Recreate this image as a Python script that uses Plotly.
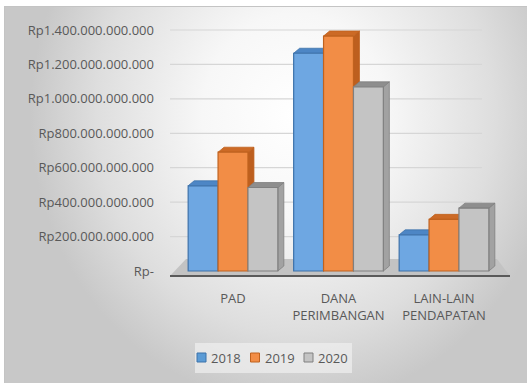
import urllib.parse
import plotly.graph_objects as go

# Revenue components (Rupiah) per fiscal year
categories = ["PAD", "DANA<br>PERIMBANGAN", "LAIN-LAIN<br>PENDAPATAN"]
years = ["2018", "2019", "2020"]
values_2018 = [495_000_000_000, 1_265_000_000_000, 210_000_000_000]
values_2019 = [690_000_000_000, 1_365_000_000_000, 300_000_000_000]
values_2020 = [485_000_000_000, 1_070_000_000_000, 365_000_000_000]

tick_values = [0, 200e9, 400e9, 600e9, 800e9, 1000e9, 1200e9, 1400e9]
tick_labels = ["Rp-", "Rp200.000.000.000", "Rp400.000.000.000", "Rp600.000.000.000",
               "Rp800.000.000.000", "Rp1.000.000.000.000", "Rp1.200.000.000.000",
               "Rp1.400.000.000.000"]

series = [values_2018, values_2019, values_2020]
front_colors = ["#6ea7e2", "#f28d46", "#c4c4c4"]
edge_colors = ["#3d72aa", "#c0621e", "#808080"]
top_colors = ["#4d86c5", "#cc6a26", "#8e8e8e"]
side_colors = ["#4479b3", "#bd5f1f", "#a2a2a2"]

# ---- geometry of the figure ----
W, H = 527, 383
ML, MR, MT, MB = 170, 17, 21, 105
PW, PH = W - ML - MR, H - MT - MB
px_per_x = 105.5
x0 = -(233 - ML) / px_per_x
x1 = x0 + PW / px_per_x
px_per_y = 241 / 1400e9
y1 = (271 - MT) / px_per_y
y0 = y1 - PH / px_per_y

BARGAP = 0.15
bw = (1 - BARGAP) / len(years)


def to_data(px, py):
    return x0 + (px - ML) / px_per_x, y1 - (py - MT) / px_per_y


def to_paper(px, py):
    return (px - ML) / PW, (MT + PH - py) / PH


fig = go.Figure()
xs = list(range(len(categories)))
for yr, vals, fc, ec in zip(years, series, front_colors, edge_colors):
    fig.add_trace(go.Bar(
        x=xs, y=vals, name=yr,
        marker=dict(color=fc, line=dict(color=ec, width=1.2)),
        hoverinfo="skip", showlegend=False,
    ))

shapes = []
annotations = []

# floor of the chart
fl = [to_data(170, 276), to_data(510, 276), to_data(497, 259), to_data(186, 259)]
shapes.append(dict(
    type="path", xref="x", yref="y", layer="below",
    path="M{},{} L{},{} L{},{} L{},{} Z".format(*[c for p in fl for c in p]),
    fillcolor="#c3c3c3", line=dict(width=0),
))
a, b = to_data(170, 276), to_data(510, 276)
shapes.append(dict(type="line", xref="x", yref="y", layer="below",
                   x0=a[0], y0=a[1], x1=b[0], y1=b[1],
                   line=dict(color="#5a5a5a", width=2)))

# horizontal gridlines
for tv in tick_values[1:]:
    shapes.append(dict(type="line", xref="paper", yref="y", layer="below",
                       x0=0, x1=(482 - ML) / PW, y0=tv, y1=tv,
                       line=dict(color="#d6d6d6", width=1.2)))

# depth faces (top and right side) of each column
dx = 6 / px_per_x
dy = 5 / px_per_y
for s, vals in enumerate(series):
    for c, v in enumerate(vals):
        xl = c + (s - 1) * bw - bw / 2
        xr = xl + bw
        top = f"M{xl},{v} L{xr},{v} L{xr+dx},{v+dy} L{xl+dx},{v+dy} Z"
        side = f"M{xr},0 L{xr+dx},{dy} L{xr+dx},{v+dy} L{xr},{v} Z"
        shapes.append(dict(type="path", xref="x", yref="y", layer="between",
                           path=side, fillcolor=side_colors[s],
                           line=dict(color=edge_colors[s], width=0.8)))
        shapes.append(dict(type="path", xref="x", yref="y", layer="between",
                           path=top, fillcolor=top_colors[s],
                           line=dict(color=edge_colors[s], width=0.8)))

# compact legend box below the plot
lx0, ly0 = to_paper(195, 373)
lx1, ly1 = to_paper(352, 343)
shapes.append(dict(type="rect", xref="paper", yref="paper", layer="below",
                   x0=lx0, y0=ly0, x1=lx1, y1=ly1,
                   fillcolor="rgba(240,240,240,0.7)", line=dict(width=0)))
for i, yr in enumerate(years):
    left = 197 + i * 53.5
    sx0, sy0 = to_paper(left, 362)
    sx1, sy1 = to_paper(left + 9, 353)
    shapes.append(dict(type="rect", xref="paper", yref="paper", layer="above",
                       x0=sx0, y0=sy0, x1=sx1, y1=sy1,
                       fillcolor=front_colors[i] if i else "#5b9bd5",
                       line=dict(color=edge_colors[i], width=1)))
    tx, ty = to_paper(left + 12, 357.5)
    annotations.append(dict(xref="paper", yref="paper", x=tx, y=ty, text=yr,
                            showarrow=False, xanchor="left", yanchor="middle",
                            font=dict(size=13, color="#595959")))

# soft radial backdrop with a thin frame
svg = (
    "<svg xmlns='http://www.w3.org/2000/svg' width='527' height='383' "
    "viewBox='0 0 527 383' preserveAspectRatio='none'>"
    "<defs><radialGradient id='g' gradientUnits='userSpaceOnUse' cx='0' cy='0' r='1' "
    "gradientTransform='translate(295 115) scale(265 290)'>"
    "<stop offset='0' stop-color='#ffffff'/>"
    "<stop offset='0.35' stop-color='#f7f7f7'/>"
    "<stop offset='0.75' stop-color='#dedede'/>"
    "<stop offset='1' stop-color='#c8c8c8'/>"
    "</radialGradient></defs>"
    "<rect width='527' height='383' fill='#ffffff'/>"
    "<rect x='4.5' y='6.5' width='540' height='400' fill='url(#g)' stroke='#c4c4c4'/>"
    "</svg>"
)
bg_uri = "data:image/svg+xml;charset=utf-8," + urllib.parse.quote(svg)

fig.update_layout(
    width=W, height=H,
    margin=dict(l=ML, r=MR, t=MT, b=MB, pad=0),
    paper_bgcolor="rgba(0,0,0,0)",
    plot_bgcolor="rgba(0,0,0,0)",
    barmode="group", bargap=BARGAP, bargroupgap=0,
    font=dict(family="Open Sans", size=13, color="#595959"),
    shapes=shapes,
    annotations=annotations,
    images=[dict(source=bg_uri, xref="paper", yref="paper",
                 x=-ML / PW, y=1 + MT / PH, sizex=W / PW, sizey=H / PH,
                 xanchor="left", yanchor="top", sizing="stretch", layer="below")],
    xaxis=dict(range=[x0, x1], tickvals=xs, ticktext=categories,
               showgrid=False, zeroline=False, showline=False, ticks="",
               ticklabelstandoff=11, fixedrange=True),
    yaxis=dict(range=[y0, y1], tickvals=tick_values, ticktext=tick_labels,
               showgrid=False, zeroline=False, showline=False, ticks="",
               ticklabelstandoff=15, fixedrange=True),
    showlegend=False,
)

fig.write_html("out.html")
